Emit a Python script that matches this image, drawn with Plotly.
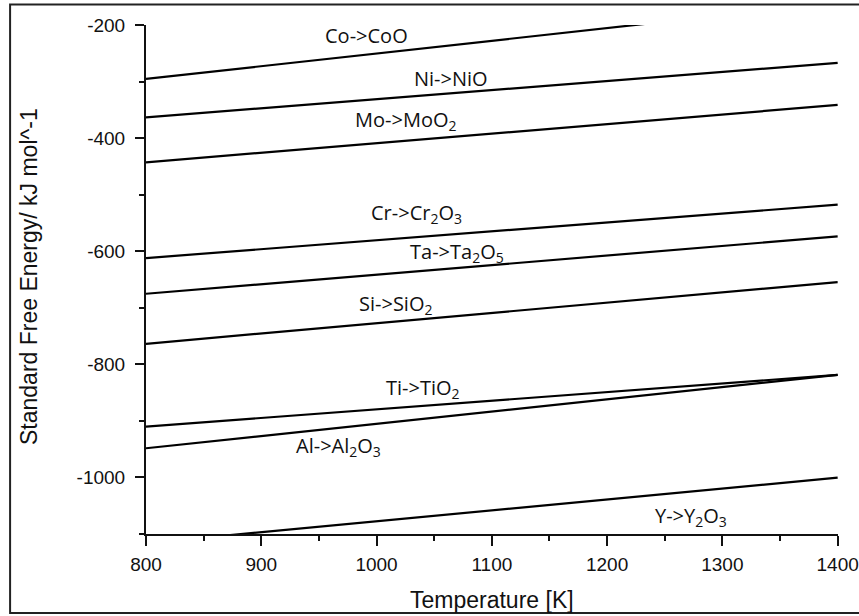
import plotly.graph_objects as go

# Standard free energy of oxide formation (kJ/mol) vs temperature (K)
temperature_k = [800, 1400]
co_coo = [-295.3, -160.5]
ni_nio = [-363.2, -266.9]
mo_moo2 = [-442.8, -341.3]
cr_cr2o3 = [-612.1, -517.7]
ta_ta2o5 = [-675.2, -573.8]
si_sio2 = [-763.7, -654.5]
ti_tio2 = [-910.1, -818.6]
al_al2o3 = [-948.4, -818.6]
y_y2o3 = [-1116.0, -1000.4]

x_ticks = [800, 900, 1000, 1100, 1200, 1300, 1400]
y_ticks = [-1000, -800, -600, -400, -200]

series = [
    ("Co->CoO", co_coo),
    ("Ni->NiO", ni_nio),
    ("Mo->MoO<sub>2</sub>", mo_moo2),
    ("Cr->Cr<sub>2</sub>O<sub>3</sub>", cr_cr2o3),
    ("Ta->Ta<sub>2</sub>O<sub>5</sub>", ta_ta2o5),
    ("Si->SiO<sub>2</sub>", si_sio2),
    ("Ti->TiO<sub>2</sub>", ti_tio2),
    ("Al->Al<sub>2</sub>O<sub>3</sub>", al_al2o3),
    ("Y->Y<sub>2</sub>O<sub>3</sub>", y_y2o3),
]

# where each reaction label sits (temperature, energy)
label_spots = {
    "Co->CoO": (991, -219),
    "Ni->NiO": (1065, -295),
    "Mo->MoO<sub>2</sub>": (1025, -368),
    "Cr->Cr<sub>2</sub>O<sub>3</sub>": (1035, -534),
    "Ta->Ta<sub>2</sub>O<sub>5</sub>": (1070, -603),
    "Si->SiO<sub>2</sub>": (1016, -694),
    "Ti->TiO<sub>2</sub>": (1040, -842),
    "Al->Al<sub>2</sub>O<sub>3</sub>": (967, -945),
    "Y->Y<sub>2</sub>O<sub>3</sub>": (1273, -1069),
}

fig = go.Figure()
for name, values in series:
    fig.add_trace(go.Scatter(
        x=temperature_k, y=values, mode="lines", name=name,
        line=dict(color="black", width=2.2), showlegend=False,
        hoverinfo="skip",
    ))

label_font = dict(family="Open Sans", size=20, color="#111")
for name, (tx, gy) in label_spots.items():
    fig.add_annotation(x=tx, y=gy, text=name, showarrow=False,
                       font=label_font, xanchor="center", yanchor="middle")

axis_font = dict(family="Liberation Sans, Arial", size=19, color="#111")

fig.update_xaxes(
    range=[800, 1400.3], tickvals=x_ticks, ticktext=[str(v) for v in x_ticks],
    ticks="outside", ticklen=10, tickwidth=2, tickcolor="#111",
    minor=dict(ticks="outside", ticklen=5, tickwidth=2, tickcolor="#111", dtick=50, tick0=800),
    showline=True, linewidth=2, linecolor="#111", mirror=False,
    showgrid=False, zeroline=False, tickfont=axis_font, ticklabelstandoff=2,
    ticklabeloverflow="allow", automargin=False,
)
fig.update_yaxes(
    range=[-1100, -200], tickvals=y_ticks, ticktext=[str(v) for v in y_ticks],
    ticks="outside", ticklen=9, tickwidth=2, tickcolor="#111",
    minor=dict(ticks="outside", ticklen=5, tickwidth=2, tickcolor="#111", dtick=100, tick0=-1100),
    showline=True, linewidth=2, linecolor="#111", mirror=False,
    showgrid=False, zeroline=False, tickfont=axis_font, ticklabelstandoff=6,
    automargin=False,
)

title_font = dict(family="Liberation Sans, Arial", size=23, color="#111")
fig.add_annotation(xref="paper", yref="paper", x=0.5, y=-0.13,
                   text="Temperature [K]", showarrow=False, font=title_font,
                   xanchor="center", yanchor="middle")
fig.add_annotation(xref="paper", yref="paper", x=-0.169, y=0.505,
                   text="Standard Free Energy/ kJ mol^-1", showarrow=False,
                   font=title_font, textangle=-90, xanchor="center", yanchor="middle")

# outer frame around the whole figure
fig.add_shape(type="rect", xref="paper", yref="paper",
              x0=-0.1964, x1=1.06, y0=-0.1554, y1=1.0403,
              line=dict(color="#222", width=2), layer="above")

fig.update_layout(
    width=859, height=616,
    margin=dict(l=146, r=21, t=25, b=82, autoexpand=False),
    paper_bgcolor="white", plot_bgcolor="white",
)

fig.write_html("out.html")
